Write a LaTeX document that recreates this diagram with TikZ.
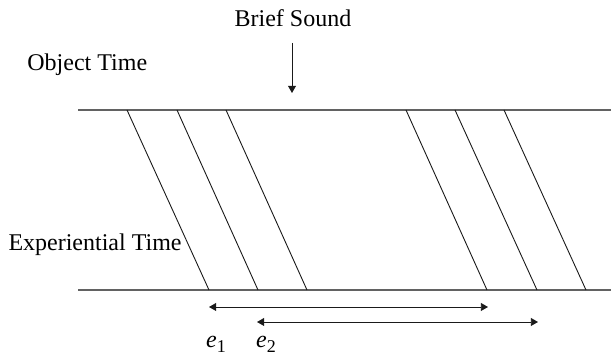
\documentclass[tikz,border=0pt]{standalone}
\usepackage{fontspec}
\setmainfont{Liberation Serif}
\usetikzlibrary{arrows.meta}
\definecolor{Rule}{HTML}{626262}
\definecolor{Ink}{HTML}{1A1A1A}
\newcommand{\evt}[1]{\textit{e}\raisebox{-0.45ex}{\fontsize{9}{10}\selectfont #1}}

\begin{document}
\begin{tikzpicture}[x=0.5pt,y=-0.5pt,font=\fontsize{12}{14}\selectfont,
  timeline/.style={draw=Rule,line width=0.85pt},
  slant/.style={draw=Ink,line width=0.45pt},
  span/.style={draw=Ink,line width=0.45pt,{Triangle[length=3.6pt,width=4pt]}-{Triangle[length=3.6pt,width=4pt]}},
  pointer/.style={draw=Ink,line width=0.45pt,-{Triangle[length=3.6pt,width=4pt]}}]
\useasboundingbox (0,0) rectangle (611,357);
% labels
\node[anchor=base] (sound) at (293,27) {Brief Sound};
\node[anchor=base west,inner sep=0pt] (object) at (27,71) {Object Time};
\node[anchor=base east,inner sep=0pt] (exper) at (182,251) {Experiential Time};
\node[anchor=base] (e1) at (216,348) {\evt{1}};
\node[anchor=base] (e2) at (266,348) {\evt{2}};
% the two time lines
\coordinate (oL) at (78,110);
\coordinate (oR) at (611,110);
\coordinate (xL) at (78,290);
\coordinate (xR) at (611,290);
\draw[timeline] (oL) -- (oR);
\draw[timeline] (xL) -- (xR);
\coordinate (hit) at (292,93);
\draw[pointer] (292,43) -- (hit);
% projections from object time to experiential time
\foreach \i/\xt/\xb in {1/127/209,2/177/258,3/226/307,4/406/487,5/455/537,6/504/586}{
  \coordinate (t\i) at (\xt,110);
  \coordinate (b\i) at (\xb,290);
  \draw[slant] (t\i) -- (b\i);
}
% durations
\coordinate (s1) at (209,307);
\coordinate (f1) at (488,307);
\coordinate (s2) at (257,322);
\coordinate (f2) at (538,322);
\draw[span] (s1) -- (f1);
\draw[span] (s2) -- (f2);
\end{tikzpicture}
\end{document}
